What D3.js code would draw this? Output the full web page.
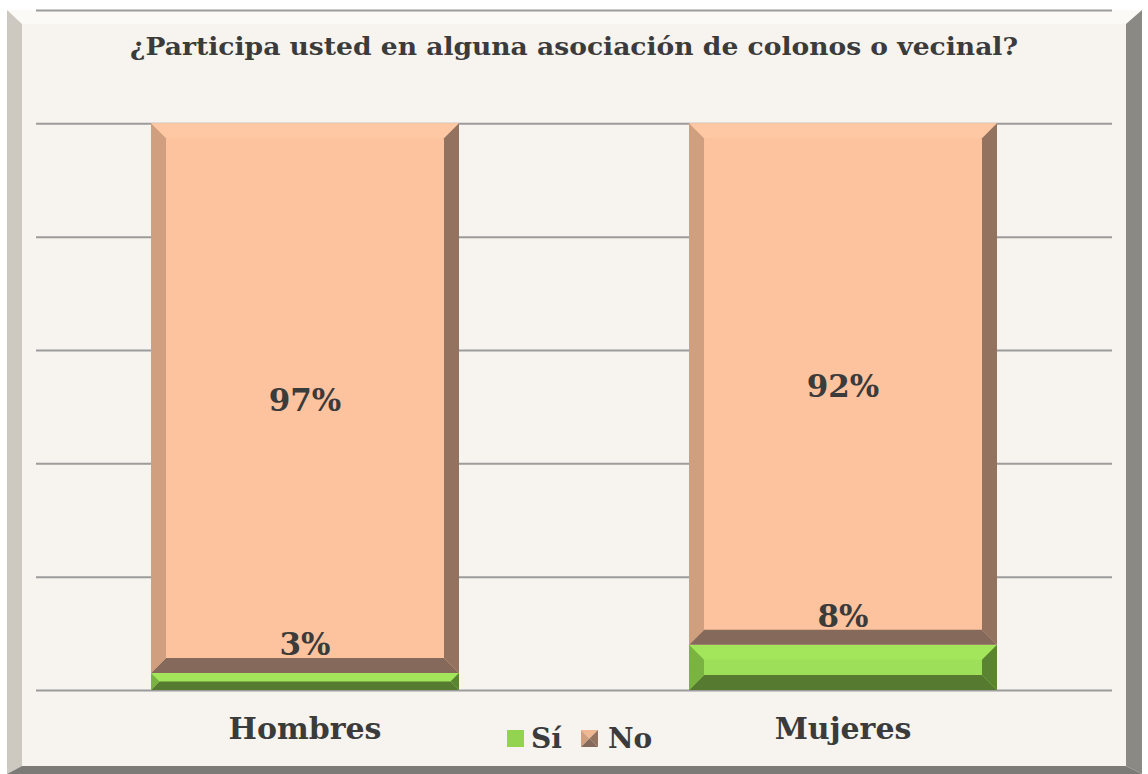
<!DOCTYPE html>
<html>
<head>
<meta charset="utf-8">
<script src="https://cdn.jsdelivr.net/npm/d3@7"></script>
<style>
    body { margin: 0; background: #ffffff; }
    svg text { font-family: "DejaVu Serif", Georgia, serif; font-weight: bold; fill: #3b3b3b; }
</style>
</head>
<body>
<div id="chart"></div>
<script>
// chart data
const title = "¿Participa usted en alguna asociación de colonos o vecinal?";
const categories = ["Hombres", "Mujeres"];
const seriesNames = ["Sí", "No"];
const siValues = [3, 8];
const noValues = [97, 92];
const gridTicks = [0, 20, 40, 60, 80, 100, 120];

// bevel colour sets: face, top, left, right, bottom
const palette = {
    "Sí": { face: "#9ddf58", top: "#a3e65c", left: "#7bb343", right: "#5a8431", bottom: "#557a30" },
    "No": { face: "#fdc39f", top: "#fec8a4", left: "#cf9f80", right: "#937360", bottom: "#85695a" }
};

const W = 1148, H = 774;
const svg = d3.select("#chart").append("svg")
    .attr("width", W)
    .attr("height", H);

// outer bevelled frame
const outer = { x0: 7, y0: 10, x1: 1142, y1: 774 };
const inner = { x0: 22, y0: 24, x1: 1126, y1: 766 };
const framePolys = [
    { fill: "#fcfaf6", pts: [[outer.x0, outer.y0], [outer.x1, outer.y0], [inner.x1, inner.y0], [inner.x0, inner.y0]] },
    { fill: "#cdc9c1", pts: [[outer.x0, outer.y0], [inner.x0, inner.y0], [inner.x0, inner.y1], [outer.x0, outer.y1]] },
    { fill: "#8b8984", pts: [[outer.x1, outer.y0], [inner.x1, inner.y0], [inner.x1, inner.y1], [outer.x1, outer.y1]] },
    { fill: "#7d7b77", pts: [[outer.x0, outer.y1], [inner.x0, inner.y1], [inner.x1, inner.y1], [outer.x1, outer.y1]] }
];
svg.append("rect")
    .attr("x", inner.x0).attr("y", inner.y0)
    .attr("width", inner.x1 - inner.x0).attr("height", inner.y1 - inner.y0)
    .attr("fill", "#f7f3ee");
svg.selectAll(".frame")
    .data(framePolys)
    .enter().append("polygon")
    .attr("class", "frame")
    .attr("points", d => d.pts.map(p => p.join(",")).join(" "))
    .attr("fill", d => d.fill);

// scales
const x = d3.scaleBand()
    .domain(categories)
    .range([36, 1112])
    .paddingInner(0.4275)
    .paddingOuter(0.21375);

const y = d3.scaleLinear()
    .domain([0, 120])
    .range([690, 10]);

// gridlines
const grid = svg.append("g")
    .attr("class", "grid")
    .attr("transform", "translate(36,0)")
    .call(d3.axisLeft(y).tickValues(gridTicks).tickSize(-1076).tickFormat(""));
grid.select(".domain").remove();
grid.selectAll("line")
    .attr("stroke", "#9c9c9c")
    .attr("stroke-width", 2);

// stacked data
const stacked = categories.map((c, i) => ({
    cat: c,
    segs: [
        { name: "Sí", v0: 0, v1: siValues[i], value: siValues[i] },
        { name: "No", v0: siValues[i], v1: siValues[i] + noValues[i], value: noValues[i] }
    ]
}));

// draw one bevelled block
function bevelBlock(g, x0, x1, y0, y1, col) {
    const b = Math.min(15, (y1 - y0) / 2);
    const polys = [
        { fill: col.top, pts: [[x0, y0], [x1, y0], [x1 - b, y0 + b], [x0 + b, y0 + b]] },
        { fill: col.bottom, pts: [[x0, y1], [x1, y1], [x1 - b, y1 - b], [x0 + b, y1 - b]] },
        { fill: col.left, pts: [[x0, y0], [x0 + b, y0 + b], [x0 + b, y1 - b], [x0, y1]] },
        { fill: col.right, pts: [[x1, y0], [x1 - b, y0 + b], [x1 - b, y1 - b], [x1, y1]] }
    ];
    g.append("rect")
        .attr("x", x0).attr("y", y0)
        .attr("width", x1 - x0).attr("height", y1 - y0)
        .attr("fill", col.face);
    polys.forEach(p => {
        g.append("polygon")
            .attr("points", p.pts.map(q => q.join(",")).join(" "))
            .attr("fill", p.fill);
    });
}

const bars = svg.append("g").attr("class", "bars");
stacked.forEach(d => {
    const x0 = x(d.cat), x1 = x(d.cat) + x.bandwidth();
    d.segs.forEach(s => {
        bevelBlock(bars, x0, x1, y(s.v1), y(s.v0), palette[s.name]);
    });
});

// data labels
const labels = svg.append("g").attr("class", "labels");
stacked.forEach(d => {
    const cx = x(d.cat) + x.bandwidth() / 2;
    const si = d.segs[0], no = d.segs[1];
    labels.append("text")
        .attr("x", cx)
        .attr("y", y(si.v1) - 18)
        .attr("text-anchor", "middle")
        .style("font-size", "31px")
        .text(si.value + "%");
    labels.append("text")
        .attr("x", cx)
        .attr("y", (y(no.v0) + y(no.v1)) / 2 + 13)
        .attr("text-anchor", "middle")
        .style("font-size", "31px")
        .text(no.value + "%");
});

// category labels
svg.append("g")
    .selectAll("text")
    .data(categories)
    .enter().append("text")
    .attr("x", d => x(d) + x.bandwidth() / 2)
    .attr("y", 739)
    .attr("text-anchor", "middle")
    .style("font-size", "30px")
    .text(d => d);

// title
svg.append("text")
    .attr("x", 574)
    .attr("y", 55)
    .attr("text-anchor", "middle")
    .attr("textLength", 888)
    .attr("lengthAdjust", "spacingAndGlyphs")
    .style("font-size", "24px")
    .text(title);

// legend
const legend = svg.append("g").attr("class", "legend");
const siKey = legend.append("g").attr("transform", "translate(507,730)");
siKey.append("rect").attr("width", 17).attr("height", 17).attr("fill", "#92d450");
siKey.append("text").attr("x", 24).attr("y", 18).style("font-size", "28px").text(seriesNames[0]);

const noKey = legend.append("g").attr("transform", "translate(581,730)");
const c = palette["No"];
const k = 17, m = k / 2;
[
    { fill: "#f0b892", pts: [[0, 0], [k, 0], [m, m]] },
    { fill: c.left, pts: [[0, 0], [m, m], [0, k]] },
    { fill: c.right, pts: [[k, 0], [m, m], [k, k]] },
    { fill: c.bottom, pts: [[0, k], [m, m], [k, k]] }
].forEach(p => {
    noKey.append("polygon")
        .attr("points", p.pts.map(q => q.join(",")).join(" "))
        .attr("fill", p.fill);
});
noKey.append("text").attr("x", 27).attr("y", 18).style("font-size", "28px").text(seriesNames[1]);
</script>
</body>
</html>
